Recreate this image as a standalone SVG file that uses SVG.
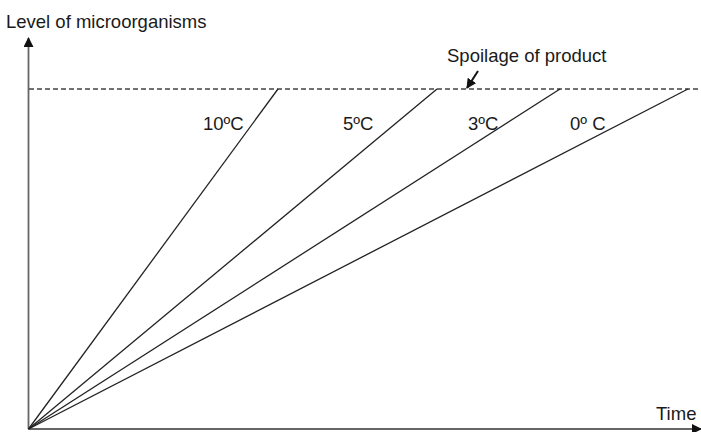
<svg xmlns="http://www.w3.org/2000/svg" width="701" height="432" viewBox="0 0 701 432">
  <style>
    text { font-family: "Liberation Sans", Arial, sans-serif; font-size: 18.5px; fill: #1a1a1a; }
    .axis { stroke: #666; stroke-width: 1.8; fill: none; }
    .rate { stroke: #222; stroke-width: 1.3; fill: none; }
    .pointer { stroke: #111; stroke-width: 2; fill: none; }
    .limit { stroke: #444; stroke-width: 1.4; stroke-dasharray: 5 3; fill: none; }
  </style>
  <defs>
    <marker id="head" viewBox="0 0 10 10" refX="9" refY="5" markerWidth="10" markerHeight="10" markerUnits="userSpaceOnUse" orient="auto">
      <path d="M0,0 L10,5 L0,10 z" fill="#111"/>
    </marker>
    <marker id="axisHead" viewBox="0 0 10 10" refX="9" refY="5" markerWidth="11" markerHeight="10" markerUnits="userSpaceOnUse" orient="auto">
      <path d="M0,0 L10,5 L0,10 z" fill="#111"/>
    </marker>
  </defs>

  <!-- axes -->
  <g id="axes">
    <line class="axis" x1="28.5" y1="429" x2="28.5" y2="38" marker-end="url(#axisHead)"/>
    <line class="axis" x1="28.5" y1="429" x2="701" y2="429" marker-end="url(#axisHead)"/>
    <text x="6" y="28">Level of microorganisms</text>
    <text x="656" y="420">Time</text>
  </g>

  <!-- spoilage threshold -->
  <g id="spoilage">
    <line class="limit" x1="29" y1="89" x2="698" y2="89"/>
    <text x="447" y="62">Spoilage of product</text>
  </g>

  <!-- growth lines for each storage temperature -->
  <g id="connectors">
    <line class="rate" x1="28.5" y1="429" x2="278" y2="89"/>
    <line class="rate" x1="28.5" y1="429" x2="437" y2="89"/>
    <line class="rate" x1="28.5" y1="429" x2="560" y2="89"/>
    <line class="rate" x1="28.5" y1="429" x2="688" y2="89"/>
    <line class="pointer" x1="478" y1="71" x2="467" y2="88" marker-end="url(#head)"/>
  </g>

  <g id="t10"><text x="203" y="130">10ºC</text></g>
  <g id="t5"><text x="343" y="130">5ºC</text></g>
  <g id="t3"><text x="468" y="130">3ºC</text></g>
  <g id="t0"><text x="570" y="130">0º C</text></g>
</svg>
